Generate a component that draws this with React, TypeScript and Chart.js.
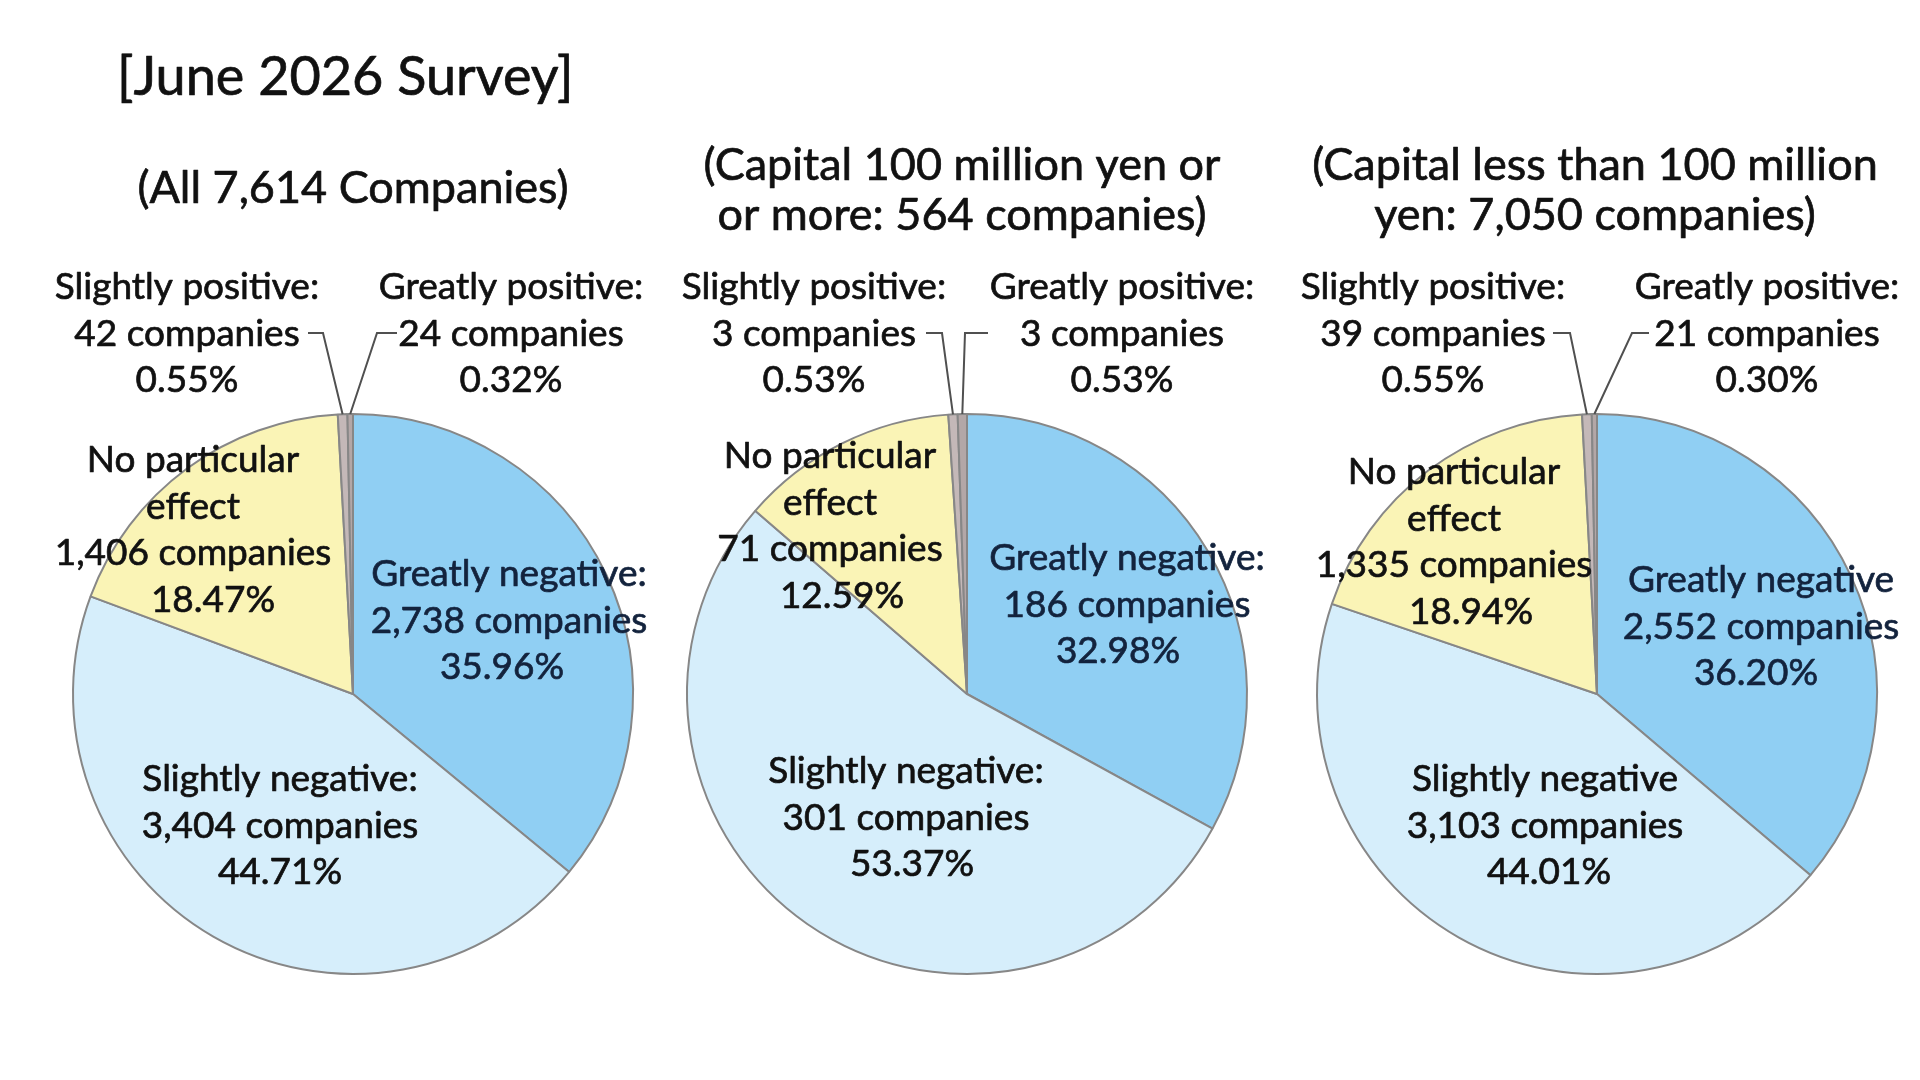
import React, { useEffect, useRef } from 'react';
import { Chart, registerables } from 'chart.js';

Chart.register(...registerables);

// ---------- data ----------
const categories = [
  'Greatly negative',
  'Slightly negative',
  'No particular effect',
  'Slightly positive',
  'Greatly positive',
];

const allCounts = [2738, 3404, 1406, 42, 24];
const allPct = [35.96, 44.71, 18.47, 0.55, 0.32];

const largeCounts = [186, 301, 71, 3, 3];
const largePct = [32.98, 53.37, 12.59, 0.53, 0.53];

const smallCounts = [2552, 3103, 1335, 39, 21];
const smallPct = [36.2, 44.01, 18.94, 0.55, 0.3];

const headsWithColon = [
  ['Greatly negative:'],
  ['Slightly negative:'],
  ['No particular', 'effect'],
  ['Slightly positive:'],
  ['Greatly positive:'],
];
const headsNoColon = [
  ['Greatly negative'],
  ['Slightly negative'],
  ['No particular', 'effect'],
  ['Slightly positive:'],
  ['Greatly positive:'],
];

const surveyTitle = '[June 2026 Survey]';
const title1 = (n: number) => [`(All ${fmt(n)} Companies)`];
const title2 = (n: number) => ['(Capital 100 million yen or', `or more: ${fmt(n)} companies)`];
const title3 = (n: number) => ['(Capital less than 100 million', `yen: ${fmt(n)} companies)`];

const colors = ['#90CFF3', '#D6EEFB', '#FAF4B6', '#C4B8B8', '#B3A7A7'];
const borderColor = '#878787';
const textColor = '#111111';
const gnColor = '#13233D';

// ---------- layout ----------
const W = 1920;
const H = 1080;
const FONT = 'Lato, "Noto Sans", sans-serif';
const LABEL_SIZE = 37;
const LINE = 46.5;

function fmt(n: number) {
  return n.toLocaleString('en-US');
}

type LabelPos = { x: number; y: number; lastDx?: number };
type Leader = { sx: number; ex: number; y: number };

interface PieSpec {
  counts: number[];
  pct: number[];
  heads: string[][];
  cx: number;
  cy: number;
  r: number;
  title: string[];
  titleX: number;
  titleY: number[];
  labels: LabelPos[];
  leaders: { [k: number]: Leader };
  showSurvey?: boolean;
}

function drawText(ctx: CanvasRenderingContext2D, t: string, x: number, y: number, color: string) {
  ctx.fillStyle = color;
  ctx.strokeStyle = color;
  ctx.lineWidth = 0.7;
  ctx.lineJoin = 'round';
  ctx.fillText(t, x, y);
  ctx.strokeText(t, x, y);
}

function makePlugin(spec: PieSpec) {
  return {
    id: 'pieLabels',
    afterDraw(chart: any) {
      const ctx: CanvasRenderingContext2D = chart.ctx;
      const meta = chart.getDatasetMeta(0);
      ctx.save();
      // leader lines
      ctx.strokeStyle = '#505050';
      ctx.lineWidth = 2;
      Object.keys(spec.leaders).forEach((k) => {
        const i = Number(k);
        const L = spec.leaders[i];
        const arc = meta.data[i] as any;
        const mid = (arc.startAngle + arc.endAngle) / 2;
        const px = arc.x + Math.cos(mid) * arc.outerRadius;
        const py = arc.y + Math.sin(mid) * arc.outerRadius;
        ctx.beginPath();
        ctx.moveTo(L.sx, L.y);
        ctx.lineTo(L.ex, L.y);
        ctx.lineTo(px, py);
        ctx.stroke();
      });

      ctx.textAlign = 'center';
      ctx.textBaseline = 'alphabetic';
      // survey title
      if (spec.showSurvey) {
        ctx.font = `54px ${FONT}`;
        ctx.textAlign = 'left';
        drawText(ctx, surveyTitle, 117, 95, textColor);
        ctx.textAlign = 'center';
      }
      // sub title
      ctx.font = `45px ${FONT}`;
      spec.title.forEach((t, j) => drawText(ctx, t, spec.titleX, spec.titleY[j], textColor));

      // slice labels
      ctx.font = `${LABEL_SIZE}px ${FONT}`;
      spec.labels.forEach((p, i) => {
        const lines = [
          ...spec.heads[i],
          `${fmt(spec.counts[i])} companies`,
          `${spec.pct[i].toFixed(2)}%`,
        ];
        const col = i === 0 ? gnColor : textColor;
        lines.forEach((ln, j) => {
          const dx = j === lines.length - 1 ? p.lastDx || 0 : 0;
          drawText(ctx, ln, p.x + dx, p.y + j * LINE, col);
        });
      });
      ctx.restore();
    },
  };
}

function PieChart({ spec }: { spec: PieSpec }) {
  const ref = useRef<HTMLCanvasElement>(null);
  useEffect(() => {
    if (!ref.current) return;
    const { cx, cy, r } = spec;
    const chart = new Chart(ref.current, {
      type: 'pie',
      data: {
        labels: categories,
        datasets: [
          {
            data: spec.counts,
            backgroundColor: colors,
            borderColor: borderColor,
            borderWidth: 2,
          },
        ],
      },
      options: {
        responsive: false,
        animation: false,
        devicePixelRatio: 1,
        events: [],
        layout: {
          padding: {
            left: cx - r,
            right: W - cx - r,
            top: cy - r,
            bottom: H - cy - r,
          },
        },
        plugins: {
          legend: { display: false },
          tooltip: { enabled: false },
        },
      },
      plugins: [makePlugin(spec)],
    } as any);
    return () => chart.destroy();
  }, [spec]);
  return (
    <canvas
      ref={ref}
      width={W}
      height={H}
      style={{ position: 'absolute', left: 0, top: 0, width: W, height: H }}
    />
  );
}

const sum = (a: number[]) => a.reduce((s, v) => s + v, 0);

const specs: PieSpec[] = [
  {
    counts: allCounts,
    pct: allPct,
    heads: headsWithColon,
    cx: 353,
    cy: 694,
    r: 281,
    title: title1(sum(allCounts)),
    titleX: 353,
    titleY: [203],
    showSurvey: true,
    labels: [
      { x: 509, y: 586, lastDx: -7 },
      { x: 280, y: 791 },
      { x: 193, y: 472, lastDx: 20 },
      { x: 187, y: 299 },
      { x: 511, y: 299 },
    ],
    leaders: {
      3: { sx: 308, ex: 323, y: 333 },
      4: { sx: 397, ex: 377, y: 333 },
    },
  },
  {
    counts: largeCounts,
    pct: largePct,
    heads: headsWithColon,
    cx: 967,
    cy: 694,
    r: 281,
    title: title2(sum(largeCounts)),
    titleX: 962,
    titleY: [180, 230],
    labels: [
      { x: 1127, y: 570, lastDx: -9 },
      { x: 906, y: 783, lastDx: 6 },
      { x: 830, y: 468, lastDx: 12 },
      { x: 814, y: 299 },
      { x: 1122, y: 299 },
    ],
    leaders: {
      3: { sx: 926, ex: 942, y: 333 },
      4: { sx: 988, ex: 965, y: 333 },
    },
  },
  {
    counts: smallCounts,
    pct: smallPct,
    heads: headsNoColon,
    cx: 1597,
    cy: 694,
    r: 281,
    title: title3(sum(smallCounts)),
    titleX: 1595,
    titleY: [180, 230],
    labels: [
      { x: 1761, y: 592, lastDx: -5 },
      { x: 1545, y: 791, lastDx: 4 },
      { x: 1454, y: 484, lastDx: 17 },
      { x: 1433, y: 299 },
      { x: 1767, y: 299 },
    ],
    leaders: {
      3: { sx: 1553, ex: 1570, y: 333 },
      4: { sx: 1649, ex: 1632, y: 333 },
    },
  },
];

export default function App() {
  return (
    <div
      style={{
        position: 'fixed',
        left: 0,
        top: 0,
        width: W,
        height: H,
        background: '#ffffff',
        overflow: 'hidden',
      }}
    >
      {specs.map((s, i) => (
        <PieChart key={i} spec={s} />
      ))}
    </div>
  );
}
